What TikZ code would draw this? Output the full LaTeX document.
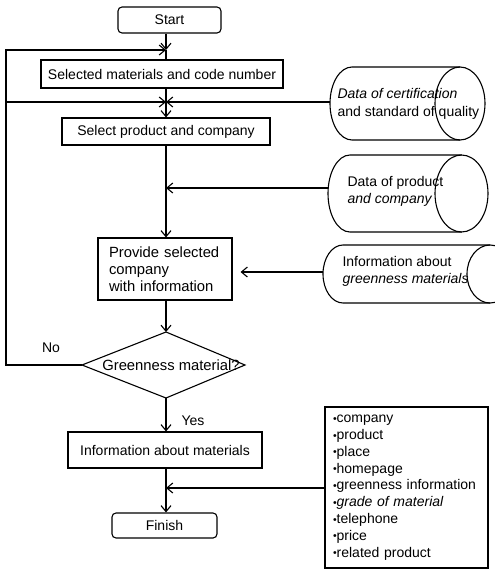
\documentclass[tikz,border=0pt]{standalone}
\usepackage{fontspec}
\setmainfont{Liberation Sans}
\usetikzlibrary{arrows.meta}
\newcommand\bul{\raisebox{0.4pt}{\fontsize{10.5}{10.5}\selectfont •}}
\begin{document}
\begin{tikzpicture}[x=1pt,y=-1pt, line width=1.1pt,
  font=\fontsize{14}{17}\selectfont,
  arr/.style={-{Straight Barb[length=6pt,width=10pt,line width=1.1pt]}},
  procbox/.style={draw, rectangle, inner sep=0pt},
  termbox/.style={draw, rectangle, rounded corners=4pt, inner sep=0pt},
  plain/.style={inner sep=0pt, align=left}]
\clip (0,0) rectangle (495,570);
\coordinate (mx) at (166,0);
% boxes
\node[termbox, minimum width=103pt, minimum height=26pt] (start) at (169.5,20) {Start};
\node[procbox, minimum width=242pt, minimum height=28pt] (box1) at (162,74) {Selected materials and code number};
\node[procbox, minimum width=208pt, minimum height=27pt] (box2) at (166,131.5) {Select product and company};
\node[procbox, align=left, text width=112pt, inner xsep=11pt, minimum height=62pt,
      font=\fontsize{14.8}{17}\selectfont] (box3) at (165,269) {Provide selected\\company\\with information};
\node[procbox, minimum width=194pt, minimum height=36pt] (box4) at (165,450) {Information about materials};
\node[termbox, minimum width=105pt, minimum height=25pt] (finish) at (164.5,525.5) {Finish};
% diamond
\coordinate (dl) at (82,365);
\coordinate (dt) at (166,332);
\coordinate (dr) at (245,365);
\coordinate (db) at (166,398);
\draw (dl) -- (dt) -- (dr) -- (db) -- cycle;
\node[plain, font=\fontsize{14.8}{17}\selectfont] (dtext) at (171,365) {Greenness material?};
\node[plain] (no) at (51,348) {No};
\node[plain] (yes) at (193,421) {Yes};
% cylinders
\draw (460,67) -- (352,67) arc[start angle=270, end angle=90, x radius=22, y radius=36.5] -- (460,140);
\draw (460,103.5) ellipse [x radius=25, y radius=36.5];
\draw (461.5,155) -- (350,155) arc[start angle=270, end angle=90, x radius=22, y radius=38.5] -- (461.5,232);
\draw (461.5,193.5) ellipse [x radius=26.5, y radius=38.5];
\draw (490,245) -- (343,245) arc[start angle=270, end angle=90, x radius=20, y radius=29] -- (490,303);
\draw (490,274) ellipse [x radius=23, y radius=29];
\node[plain, anchor=west, font=\fontsize{14}{18}\selectfont] (t1) at (337,104) {\textit{Data of certification}\\and standard of quality};
\node[plain, anchor=west] (t2) at (347,191.5) {Data of product\\\textit{and company}};
\node[plain, anchor=west] (t3) at (342,271.5) {Information about\\\textit{greenness materials}};
\coordinate (c1w) at (330,102);
\coordinate (c2w) at (328,188);
\coordinate (c3w) at (323,272);
% list
\node[draw, align=left, text width=147pt, inner xsep=8pt, inner ysep=0pt, minimum height=161pt,
      font=\fontsize{14}{16.8}\selectfont] (list) at (406.5,487.5)
  {\bul company\\\bul product\\\bul place\\\bul homepage\\\bul greenness information\\\bul\textit{grade of material}\\\bul telephone\\\bul price\\\bul related product};
\coordinate (lw) at (325,488);
% loop coordinates
\coordinate (lb) at (6,365);
\coordinate (lt) at (6,50);
\coordinate (lm) at (6,102);
% connectors
\draw[arr] (start.south -| mx) -- (lt -| mx);
\draw (lt -| mx) -- (box1.north -| mx);
\draw[arr] (dl) -- (lb) -- (lt) -- (lt -| mx);
\draw[arr] (lm) -- (lm -| mx);
\draw[arr] (c1w) -- (c1w -| mx);
\draw[arr] (box1.south -| mx) -- (box2.north -| mx);
\draw[arr] (box2.south -| mx) -- (box3.north -| mx);
\draw[arr] (c2w) -- (c2w -| mx);
\draw[arr, shorten >=8pt] (c3w) -- (c3w -| box3.east);
\draw[arr] (box3.south -| mx) -- (dt);
\draw[arr] (db) -- (box4.north -| mx);
\draw[arr] (box4.south -| mx) -- (finish.north -| mx);
\draw[arr] (lw) -- (lw -| mx);
\end{tikzpicture}
\end{document}
